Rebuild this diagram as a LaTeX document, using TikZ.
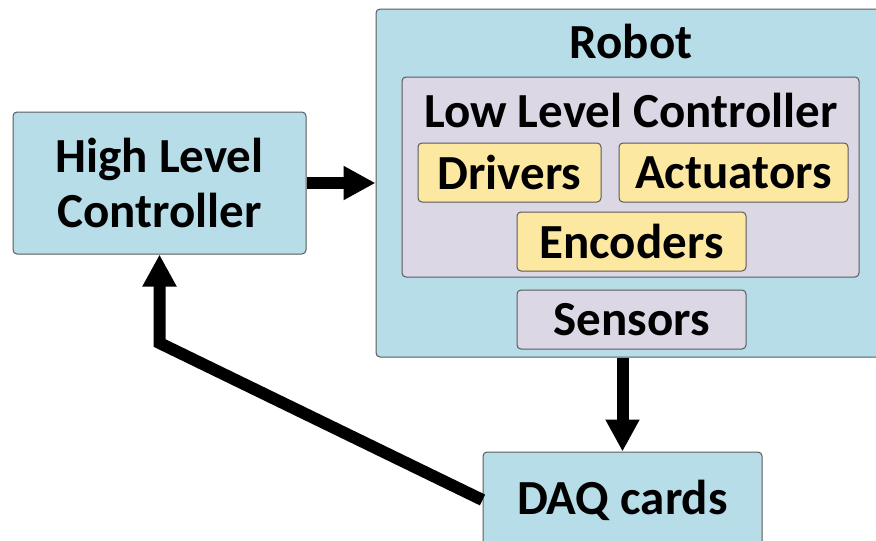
\documentclass[tikz,border=0pt]{standalone}
\usepackage{fontspec}
\setmainfont{Carlito}
\usetikzlibrary{arrows.meta}

\definecolor{boxblue}{HTML}{B6DDE8}
\definecolor{boxlilac}{HTML}{DCD7E5}
\definecolor{boxyellow}{HTML}{FDE8A2}
\definecolor{boxline}{HTML}{5A5A5A}

\begin{document}
\begin{tikzpicture}[x=1pt, y=-1pt,
    box/.style={draw=boxline, line width=1pt, rounded corners=4pt, inner sep=0pt,
      font=\fontsize{49}{55}\selectfont\bfseries, align=center},
    bluebox/.style={box, fill=boxblue},
    lilacbox/.style={box, fill=boxlilac},
    yellowbox/.style={box, fill=boxyellow},
    txt/.style={inner sep=0pt, font=\fontsize{49}{55}\selectfont\bfseries},
    flow/.style={line width=12pt, -{Triangle[length=32pt, width=32pt]}}]
  \useasboundingbox (0,0) rectangle (876,541);
  \clip (0,0) rectangle (876,541);

  % Left and bottom blocks
  \node[bluebox, minimum width=293pt, minimum height=142pt] (hlc) at (159.5,183) {High Level\\Controller};
  \node[bluebox, minimum width=279pt, minimum height=96pt] (daq) at (622.5,500) {DAQ cards};

  % Robot with its parts
  \node[bluebox, minimum width=524pt, minimum height=348pt] (robot) at (638,183) {};
  \node[txt] (robotlbl) at (631,41) {Robot};
  \node[lilacbox, minimum width=457pt, minimum height=200pt] (llc) at (630.5,177) {};
  \node[txt] (llclbl) at (631,110) {Low Level Controller};
  \node[yellowbox, minimum width=183pt, minimum height=59pt] (drv) at (509.5,172.5) {Drivers};
  \node[yellowbox, minimum width=229pt, minimum height=59pt] (act) at (733.5,172.5) {Actuators};
  \node[yellowbox, minimum width=229pt, minimum height=59pt] (enc) at (631.5,241.5) {Encoders};
  \node[lilacbox, minimum width=229pt, minimum height=59pt] (sen) at (631.5,319.5) {Sensors};

  % Arrows
  \coordinate (bend) at (159.5,343);
  \draw[flow] (hlc.east) -- (robot.west);
  \draw[flow] (daq.north |- robot.south) -- (daq.north);
  \draw[flow] (daq.west) -- (bend) -- (hlc.south);
\end{tikzpicture}
\end{document}
